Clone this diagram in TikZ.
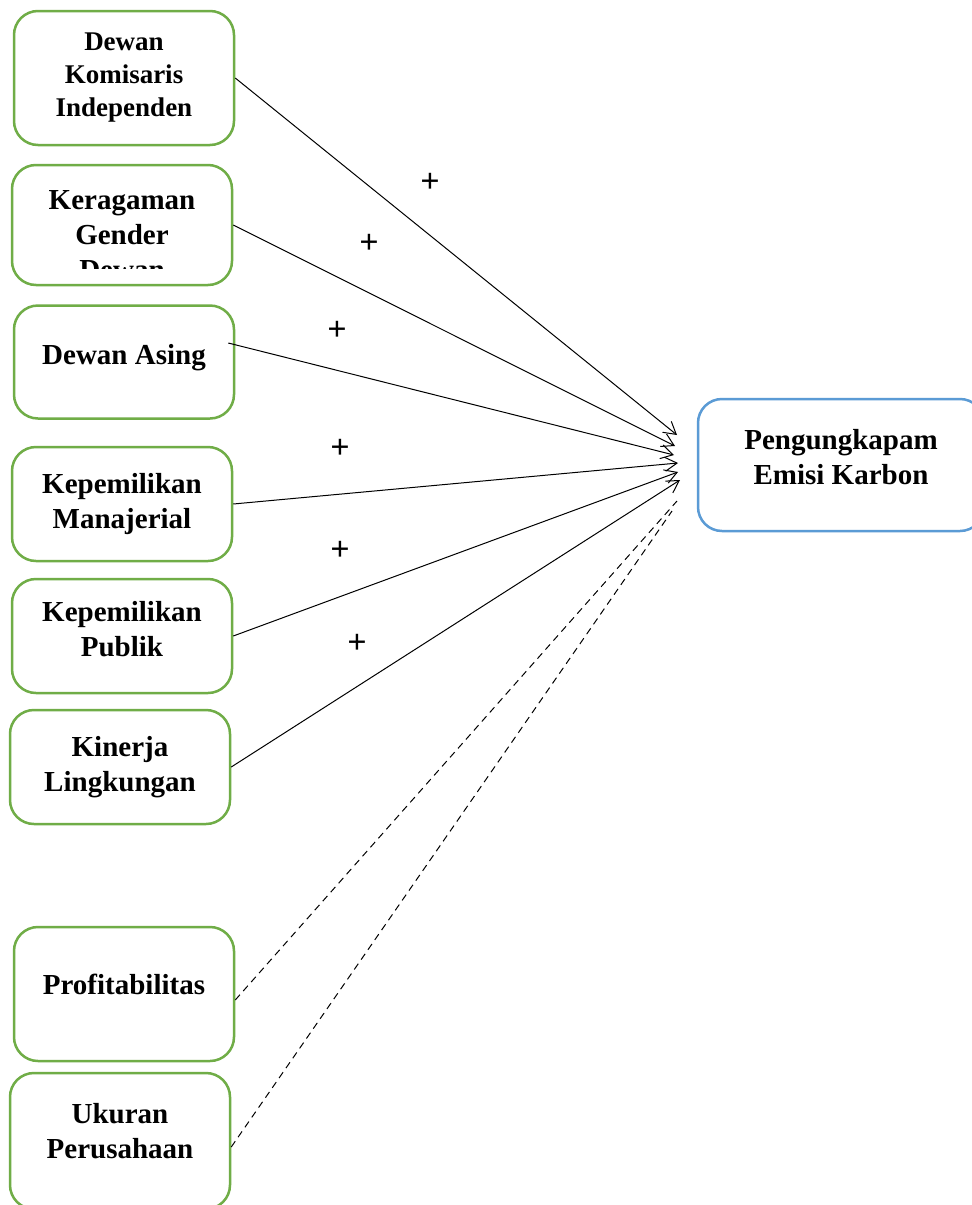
\documentclass[tikz,border=0pt]{standalone}
\usepackage{fontspec}
\setmainfont{Liberation Serif}
\usetikzlibrary{arrows.meta}
\definecolor{boxgreen}{RGB}{112,173,71}
\definecolor{boxblue}{RGB}{91,155,213}
\tikzset{
  varbox/.style={draw=boxgreen, line width=2.5pt, rounded corners=24pt, minimum width=220pt,
    align=center, font=\fontsize{29}{35}\selectfont\bfseries},
  depbox/.style={varbox, draw=boxblue, minimum width=286pt, minimum height=132pt},
  lift/.style={text depth=#1},
  plus/.style={font=\fontsize{34}{34}\selectfont, inner sep=0pt},
  hyp/.style={line width=1pt, -{Straight Barb[length=12pt,width=14pt,line width=1pt]}},
  ctrl/.style={line width=1pt, dash pattern=on 7pt off 5pt}
}

\begin{document}
\begin{tikzpicture}[x=1pt,y=-1pt]
\useasboundingbox[fill=white] (0,0) rectangle (972,1205);

\node[varbox, minimum height=134pt, font=\fontsize{27}{33}\selectfont\bfseries] (dki) at (124,78) {Dewan\\Komisaris\\Independen};
\node[varbox, minimum height=120pt] (kgd) at (122,225) {};
\begin{scope}
  \clip (0,160) rectangle (300,268);
  \node[varbox, draw=none] at (122,235) {Keragaman\\Gender\\Dewan};
\end{scope}
\node[varbox, lift=16pt, minimum height=113pt] (asing) at (124,362) {Dewan Asing};
\node[varbox, minimum height=114pt] (kman) at (122,504) {Kepemilikan\\Manajerial};
\node[varbox, lift=14pt, minimum height=114pt] (kpub) at (122,636) {Kepemilikan\\Publik};
\node[varbox, minimum height=114pt] (kling) at (120,767) {Kinerja\\Lingkungan};
\node[varbox, lift=20pt, minimum height=134pt] (prof) at (124,994) {Profitabilitas};
\node[varbox, lift=20pt, minimum height=136pt] (ukuran) at (120,1141) {Ukuran\\Perusahaan};

\node[depbox, lift=17pt] (emisi) at (841,465) {Pengungkapam\\Emisi Karbon};

\coordinate (t1) at (677,435);
\coordinate (t2) at (675,446);
\coordinate (t3) at (674,455);
\coordinate (t4) at (678,463);
\coordinate (t5) at (678,472);
\coordinate (t6) at (680,480);
\coordinate (t7) at (677,501);
\coordinate (t8) at (672,511);

\draw[hyp] (dki.east) -- (t1);
\draw[hyp] (kgd.east) -- (t2);
\draw[hyp] ([shift={(-7,-19)}]asing.east) -- (t3);
\draw[hyp] (kman.east) -- (t4);
\draw[hyp] (kpub.east) -- (t5);
\draw[hyp] (kling.east) -- (t6);
\draw[ctrl] ([shift={(0,6)}]prof.east) -- (t7);
\draw[ctrl] ([shift={(0,6)}]ukuran.east) -- (t8);

\node[plus] (p1) at (430,183) {\textbf{+}};
\node[plus] (p2) at (369,244) {\textbf{+}};
\node[plus] (p3) at (337,331) {\textbf{+}};
\node[plus] (p4) at (340,449) {\textbf{+}};
\node[plus] (p5) at (340,551) {\textbf{+}};
\node[plus] (p6) at (357,644) {\textbf{+}};
\end{tikzpicture}
\end{document}
